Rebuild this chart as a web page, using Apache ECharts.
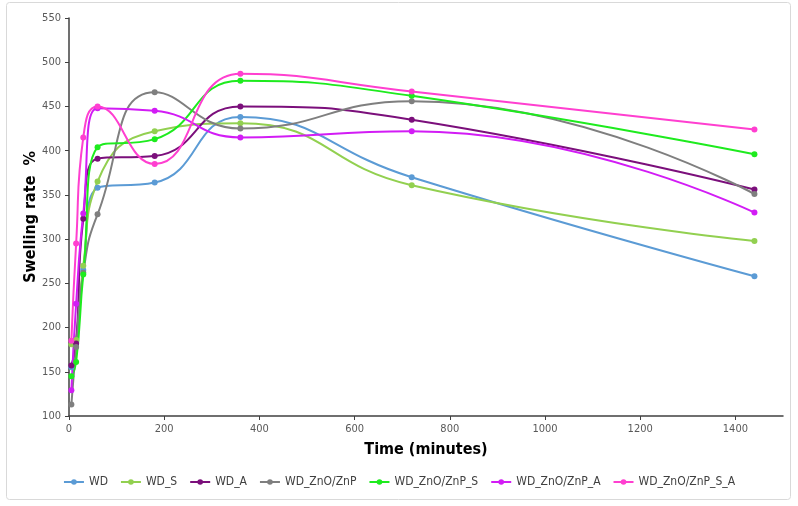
<!DOCTYPE html>
<html style="height: 100%">
   <head>
       <meta charset="utf-8">
   </head>
   <body style="height: 100%; margin: 0; background: #fff">
       <div id="container" style="width: 798px; height: 506px"></div>
       <script type="text/javascript" src="https://cdn.jsdelivr.net/npm/echarts@6/dist/echarts.min.js"></script>
       <script type="text/javascript">
// time points (minutes)
var times = [5, 15, 30, 60, 180, 360, 720, 1440];
var seriesNames = ['WD', 'WD_S', 'WD_A', 'WD_ZnO/ZnP', 'WD_ZnO/ZnP_S', 'WD_ZnO/ZnP_A', 'WD_ZnO/ZnP_S_A'];
var colors = ['#5B9BD5', '#92D050', '#7B0F7B', '#7F7F7F', '#1EEB1E', '#D21CF5', '#FF3FD0'];
// swelling rate %
var wd       = [155, 185, 265, 358, 364, 438, 370, 258];
var wdS      = [181, 186, 270, 365, 422, 431, 361, 298];
var wdA      = [157, 182, 323, 391, 394, 450, 435, 356];
var wdZn     = [113, 178, 262, 328, 466, 425, 456, 351];
var wdZnS    = [145, 161, 260, 404, 413, 479, 462, 396];
var wdZnA    = [129, 227, 329, 448, 445, 415, 422, 330];
var wdZnSA   = [185, 295, 415, 450, 385, 487, 467, 424];
var yTicks = {min: 100, max: 550, step: 50};
var xTicks = {min: 0, max: 1500, step: 200};

var allData = [wd, wdS, wdA, wdZn, wdZnS, wdZnA, wdZnSA];
var font = '"DejaVu Sans Condensed", "Liberation Sans Narrow", sans-serif';

var series = seriesNames.map(function (name, i) {
    return {
        name: name,
        type: 'line',
        smooth: 0.5,
        symbol: 'circle',
        symbolSize: 6,
        lineStyle: {width: 2, color: colors[i]},
        itemStyle: {color: colors[i]},
        data: times.map(function (t, j) { return [t, allData[i][j]]; })
    };
});

var dom = document.getElementById("container");
var myChart = echarts.init(dom);
var option = {
    animation: false,
    textStyle: {fontFamily: font},
    graphic: [{
        type: 'rect',
        shape: {x: 6.5, y: 2.5, width: 784, height: 497, r: 3},
        style: {fill: 'none', stroke: '#d9d9d9', lineWidth: 1},
        silent: true
    }],
    grid: {left: 69, top: 18, right: 15, bottom: 90},
    legend: {
        bottom: 13,
        left: 'center',
        itemWidth: 20,
        itemHeight: 7,
        itemGap: 12,
        textStyle: {color: '#404040', fontSize: 12, fontFamily: font},
        data: seriesNames
    },
    xAxis: {
        type: 'value',
        min: xTicks.min,
        max: xTicks.max,
        interval: xTicks.step,
        name: 'Time (minutes)',
        nameLocation: 'middle',
        nameGap: 26,
        nameMoveOverlap: false,
        nameTextStyle: {color: '#000', fontWeight: 'bold', fontSize: 16, fontFamily: font},
        axisLine: {lineStyle: {color: '#404040', width: 1.5}},
        axisTick: {show: true, length: 4, lineStyle: {color: '#404040'}},
        axisLabel: {color: '#595959', fontSize: 11, margin: 8, showMaxLabel: false,
            formatter: function (v) { return String(v); }},
        splitLine: {show: false}
    },
    yAxis: {
        type: 'value',
        min: yTicks.min,
        max: yTicks.max,
        interval: yTicks.step,
        name: 'Swelling rate  %',
        nameLocation: 'middle',
        nameGap: 30,
        nameMoveOverlap: false,
        nameTextStyle: {color: '#000', fontWeight: 'bold', fontSize: 16, fontFamily: font},
        axisLine: {show: true, lineStyle: {color: '#404040', width: 1.5}},
        axisTick: {show: true, length: 4, lineStyle: {color: '#404040'}},
        axisLabel: {color: '#595959', fontSize: 11, margin: 8},
        splitLine: {show: false}
    },
    series: series
};
myChart.setOption(option, true);
       </script>
   </body>
</html>
